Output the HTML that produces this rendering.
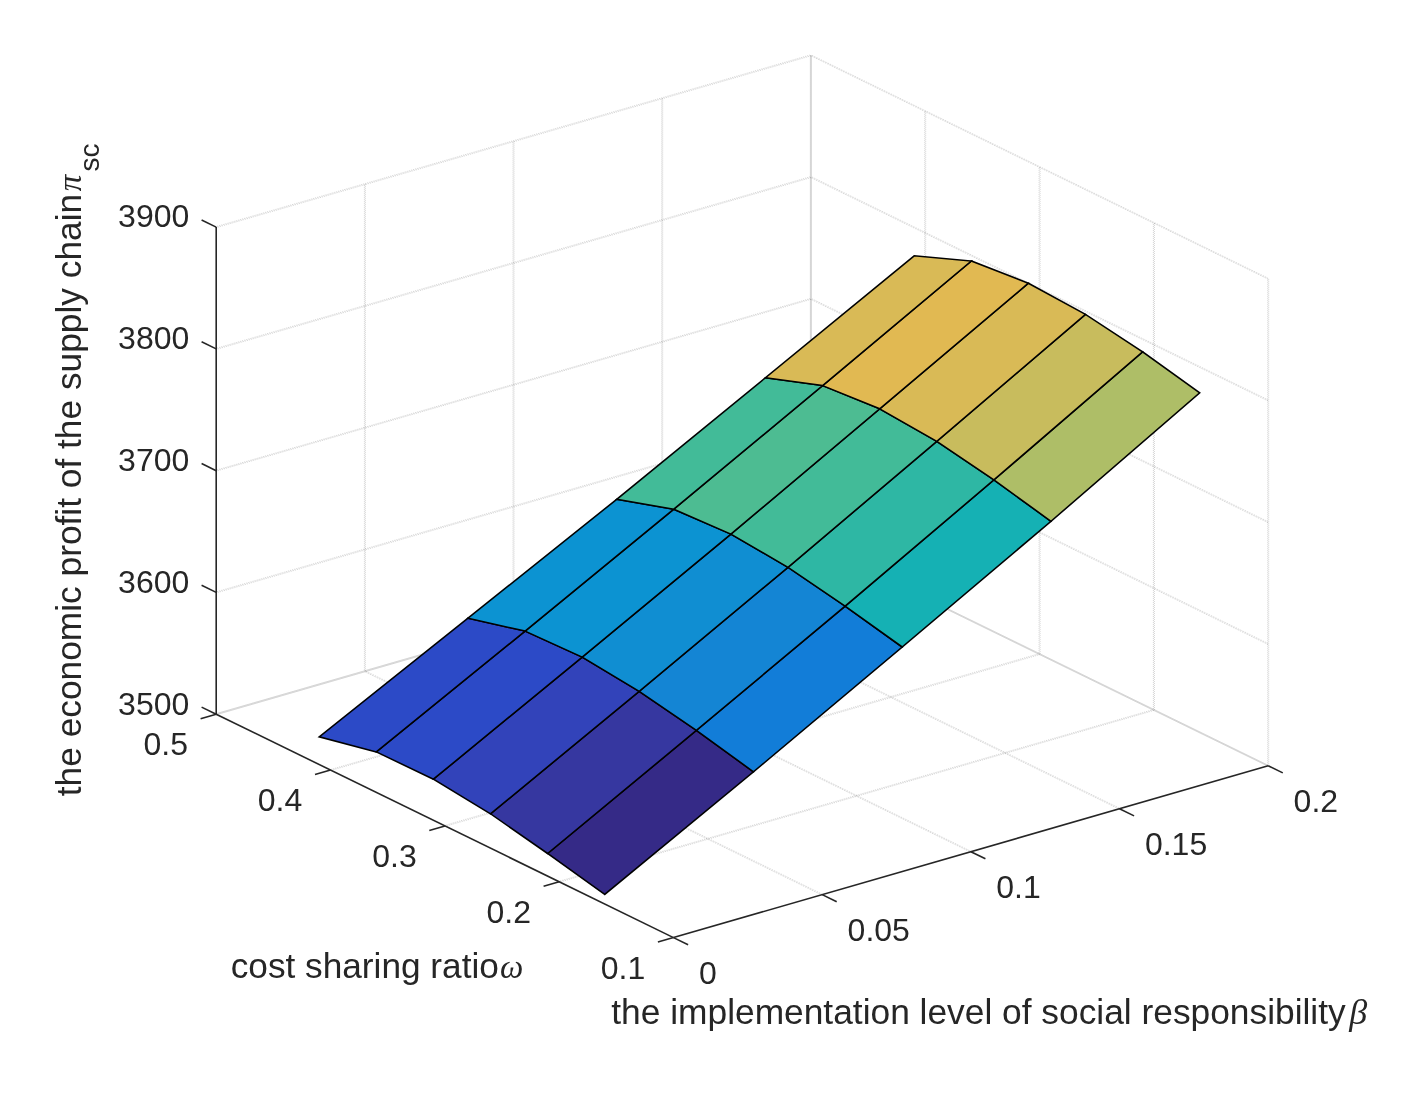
<!DOCTYPE html>
<html lang="en"><head><meta charset="utf-8"><title>Supply chain profit surface</title>
<style>html,body{margin:0;padding:0;background:#fff;}body{width:1413px;height:1095px;overflow:hidden;}svg{display:block;will-change:transform;}</style>
</head><body>
<svg width="1413" height="1095" viewBox="0 0 1413 1095">
<rect width="1413" height="1095" fill="#fff"/>
<g stroke="#262626" stroke-opacity="0.2" stroke-width="1" stroke-dasharray="1 1" fill="none">
<path d="M365.4 671.2L365.4 184.1" stroke-dashoffset="0"/>
<path d="M364.4 671.2L364.4 184.1" stroke-dashoffset="1"/>
<path d="M514.0 628.3L514.0 141.2" stroke-dashoffset="0"/>
<path d="M513.0 628.3L513.0 141.2" stroke-dashoffset="1"/>
<path d="M662.7 585.4L662.7 98.2" stroke-dashoffset="0"/>
<path d="M661.7 585.4L661.7 98.2" stroke-dashoffset="1"/>
<path d="M811.4 542.4L811.4 55.3" stroke-dashoffset="0"/>
<path d="M810.4 542.4L810.4 55.3" stroke-dashoffset="1"/>
<path d="M216.3 714.7L811.0 542.9" stroke-dashoffset="0"/>
<path d="M216.1 713.7L810.8 541.9" stroke-dashoffset="1"/>
<path d="M216.3 592.9L811.0 421.1" stroke-dashoffset="0"/>
<path d="M216.1 591.9L810.8 420.1" stroke-dashoffset="1"/>
<path d="M216.3 471.1L811.0 299.3" stroke-dashoffset="0"/>
<path d="M216.1 470.2L810.8 298.4" stroke-dashoffset="1"/>
<path d="M216.3 349.4L811.0 177.6" stroke-dashoffset="0"/>
<path d="M216.1 348.4L810.8 176.6" stroke-dashoffset="1"/>
<path d="M216.3 227.6L811.0 55.8" stroke-dashoffset="0"/>
<path d="M216.1 226.6L810.8 54.8" stroke-dashoffset="1"/>
<path d="M1268.7 765.8L1268.7 278.7" stroke-dashoffset="0"/>
<path d="M1267.7 765.8L1267.7 278.7" stroke-dashoffset="1"/>
<path d="M1154.4 710.0L1154.4 222.9" stroke-dashoffset="0"/>
<path d="M1153.4 710.0L1153.4 222.9" stroke-dashoffset="1"/>
<path d="M1040.1 654.1L1040.1 167.0" stroke-dashoffset="0"/>
<path d="M1039.1 654.1L1039.1 167.0" stroke-dashoffset="1"/>
<path d="M925.7 598.2L925.7 111.1" stroke-dashoffset="0"/>
<path d="M924.7 598.2L924.7 111.1" stroke-dashoffset="1"/>
<path d="M811.4 542.4L811.4 55.3" stroke-dashoffset="1"/>
<path d="M810.4 542.4L810.4 55.3" stroke-dashoffset="0"/>
<path d="M810.7 542.8L1268.0 766.2" stroke-dashoffset="0"/>
<path d="M811.1 542.0L1268.4 765.4" stroke-dashoffset="1"/>
<path d="M810.7 421.1L1268.0 644.5" stroke-dashoffset="0"/>
<path d="M811.1 420.2L1268.4 643.6" stroke-dashoffset="1"/>
<path d="M810.7 299.3L1268.0 522.7" stroke-dashoffset="0"/>
<path d="M811.1 298.4L1268.4 521.8" stroke-dashoffset="1"/>
<path d="M810.7 177.5L1268.0 400.9" stroke-dashoffset="0"/>
<path d="M811.1 176.6L1268.4 400.0" stroke-dashoffset="1"/>
<path d="M810.7 55.7L1268.0 279.1" stroke-dashoffset="0"/>
<path d="M811.1 54.9L1268.4 278.3" stroke-dashoffset="1"/>
<path d="M559.3 882.2L1154.0 710.4" stroke-dashoffset="0"/>
<path d="M559.0 881.3L1153.7 709.5" stroke-dashoffset="1"/>
<path d="M445.0 826.4L1039.7 654.6" stroke-dashoffset="0"/>
<path d="M444.7 825.4L1039.4 653.6" stroke-dashoffset="1"/>
<path d="M330.7 770.5L925.4 598.7" stroke-dashoffset="0"/>
<path d="M330.4 769.6L925.1 597.8" stroke-dashoffset="1"/>
<path d="M216.3 714.7L811.0 542.9" stroke-dashoffset="1"/>
<path d="M216.1 713.7L810.8 541.9" stroke-dashoffset="0"/>
<path d="M364.7 671.7L822.0 895.1" stroke-dashoffset="0"/>
<path d="M365.1 670.8L822.4 894.2" stroke-dashoffset="1"/>
<path d="M513.3 628.7L970.6 852.1" stroke-dashoffset="0"/>
<path d="M513.8 627.9L971.1 851.3" stroke-dashoffset="1"/>
<path d="M662.0 585.8L1119.3 809.2" stroke-dashoffset="0"/>
<path d="M662.4 584.9L1119.7 808.3" stroke-dashoffset="1"/>
<path d="M810.7 542.8L1268.0 766.2" stroke-dashoffset="1"/>
<path d="M811.1 542.0L1268.4 765.4" stroke-dashoffset="0"/>
</g>
<line x1="216.2" y1="714.2" x2="216.2" y2="227.1" stroke="#262626" stroke-width="1.6" />
<line x1="673.5" y1="937.6" x2="216.2" y2="714.2" stroke="#262626" stroke-width="1.6" />
<line x1="673.5" y1="937.6" x2="1268.2" y2="765.8" stroke="#262626" stroke-width="1.6" />
<line x1="216.2" y1="714.2" x2="201.6" y2="707.1" stroke="#262626" stroke-width="1.6" />
<line x1="216.2" y1="592.4" x2="201.6" y2="585.3" stroke="#262626" stroke-width="1.6" />
<line x1="216.2" y1="470.7" x2="201.6" y2="463.5" stroke="#262626" stroke-width="1.6" />
<line x1="216.2" y1="348.9" x2="201.6" y2="341.8" stroke="#262626" stroke-width="1.6" />
<line x1="216.2" y1="227.1" x2="201.6" y2="220.0" stroke="#262626" stroke-width="1.6" />
<line x1="673.5" y1="937.6" x2="657.9" y2="942.1" stroke="#262626" stroke-width="1.6" />
<line x1="559.2" y1="881.8" x2="543.6" y2="886.2" stroke="#262626" stroke-width="1.6" />
<line x1="444.9" y1="825.9" x2="429.3" y2="830.4" stroke="#262626" stroke-width="1.6" />
<line x1="330.5" y1="770.0" x2="315.0" y2="774.5" stroke="#262626" stroke-width="1.6" />
<line x1="216.2" y1="714.2" x2="200.6" y2="718.7" stroke="#262626" stroke-width="1.6" />
<line x1="673.5" y1="937.6" x2="688.1" y2="944.7" stroke="#262626" stroke-width="1.6" />
<line x1="822.2" y1="894.6" x2="836.7" y2="901.8" stroke="#262626" stroke-width="1.6" />
<line x1="970.9" y1="851.7" x2="985.4" y2="858.8" stroke="#262626" stroke-width="1.6" />
<line x1="1119.5" y1="808.8" x2="1134.1" y2="815.9" stroke="#262626" stroke-width="1.6" />
<line x1="1268.2" y1="765.8" x2="1282.8" y2="772.9" stroke="#262626" stroke-width="1.6" />
<g stroke="#000" stroke-width="1.55" stroke-linejoin="miter">
<polygon points="604.7,894.4 547.6,853.5 696.4,730.4 753.5,771.8" fill="#352a87"/>
<polygon points="547.6,853.5 490.5,813.8 639.2,691.4 696.4,730.4" fill="#3637a0"/>
<polygon points="490.5,813.8 433.4,779.2 582.2,657.1 639.2,691.4" fill="#3243ba"/>
<polygon points="433.4,779.2 376.3,751.9 525.1,631.1 582.2,657.1" fill="#2c4ac7"/>
<polygon points="376.3,751.9 319.2,736.8 468.0,618.2 525.1,631.1" fill="#2c4ac7"/>
<polygon points="753.5,771.8 696.4,730.4 845.1,606.2 902.2,647.0" fill="#127dd8"/>
<polygon points="696.4,730.4 639.2,691.4 788.0,567.3 845.1,606.2" fill="#1485d4"/>
<polygon points="639.2,691.4 582.2,657.1 730.9,534.1 788.0,567.3" fill="#108ed2"/>
<polygon points="582.2,657.1 525.1,631.1 673.8,509.2 730.9,534.1" fill="#0c93d2"/>
<polygon points="525.1,631.1 468.0,618.2 616.7,499.3 673.8,509.2" fill="#0c93d2"/>
<polygon points="902.2,647.0 845.1,606.2 993.9,479.9 1051.0,521.3" fill="#15b1b4"/>
<polygon points="845.1,606.2 788.0,567.3 936.8,441.4 993.9,479.9" fill="#2eb7a4"/>
<polygon points="788.0,567.3 730.9,534.1 879.7,408.8 936.8,441.4" fill="#42bb98"/>
<polygon points="730.9,534.1 673.8,509.2 822.6,385.6 879.7,408.8" fill="#4dbc92"/>
<polygon points="673.8,509.2 616.7,499.3 765.5,377.7 822.6,385.6" fill="#42bb98"/>
<polygon points="1051.0,521.3 993.9,479.9 1142.6,351.8 1199.7,392.9" fill="#aebe67"/>
<polygon points="993.9,479.9 936.8,441.4 1085.5,314.4 1142.6,351.8" fill="#c8bc5d"/>
<polygon points="936.8,441.4 879.7,408.8 1028.4,283.2 1085.5,314.4" fill="#d9ba56"/>
<polygon points="879.7,408.8 822.6,385.6 971.3,261.0 1028.4,283.2" fill="#e1b952"/>
<polygon points="822.6,385.6 765.5,377.7 914.2,255.8 971.3,261.0" fill="#d9ba56"/>
</g>
<g font-family="'Liberation Sans', sans-serif" fill="#262626">
<text x="189.3" y="714.5" font-size="32" text-anchor="end" >3500</text>
<text x="189.3" y="592.7" font-size="32" text-anchor="end" >3600</text>
<text x="189.3" y="471.0" font-size="32" text-anchor="end" >3700</text>
<text x="189.3" y="349.2" font-size="32" text-anchor="end" >3800</text>
<text x="189.3" y="227.4" font-size="32" text-anchor="end" >3900</text>
<text x="600.8" y="978.6" font-size="32" text-anchor="start" >0.1</text>
<text x="486.5" y="922.8" font-size="32" text-anchor="start" >0.2</text>
<text x="372.2" y="866.9" font-size="32" text-anchor="start" >0.3</text>
<text x="257.8" y="811.0" font-size="32" text-anchor="start" >0.4</text>
<text x="143.5" y="755.2" font-size="32" text-anchor="start" >0.5</text>
<text x="698.9" y="983.8" font-size="32" text-anchor="start" >0</text>
<text x="847.6" y="940.9" font-size="32" text-anchor="start" >0.05</text>
<text x="996.2" y="897.9" font-size="32" text-anchor="start" >0.1</text>
<text x="1144.9" y="855.0" font-size="32" text-anchor="start" >0.15</text>
<text x="1293.6" y="812.0" font-size="32" text-anchor="start" >0.2</text>
<text x="230.7" y="977.8" font-size="35.22">cost sharing ratio<tspan font-family="'Liberation Serif','DejaVu Serif',serif" font-style="italic" font-size="33" dx="1">ω</tspan></text>
<text x="611.3" y="1024.3" font-size="35.34">the implementation level of social responsibility<tspan font-family="'Liberation Serif','DejaVu Serif',serif" font-style="italic" font-size="36" dx="3.5">β</tspan></text>
<text transform="translate(81.1,796.2) rotate(-90)" font-size="35.3">the economic profit of the supply chain<tspan font-family="'Liberation Serif','DejaVu Serif',serif" font-style="italic" font-size="33" dx="2.5">π</tspan><tspan font-size="28" dy="18.3" dx="3.4">sc</tspan></text>
</g>
</svg>
</body></html>
